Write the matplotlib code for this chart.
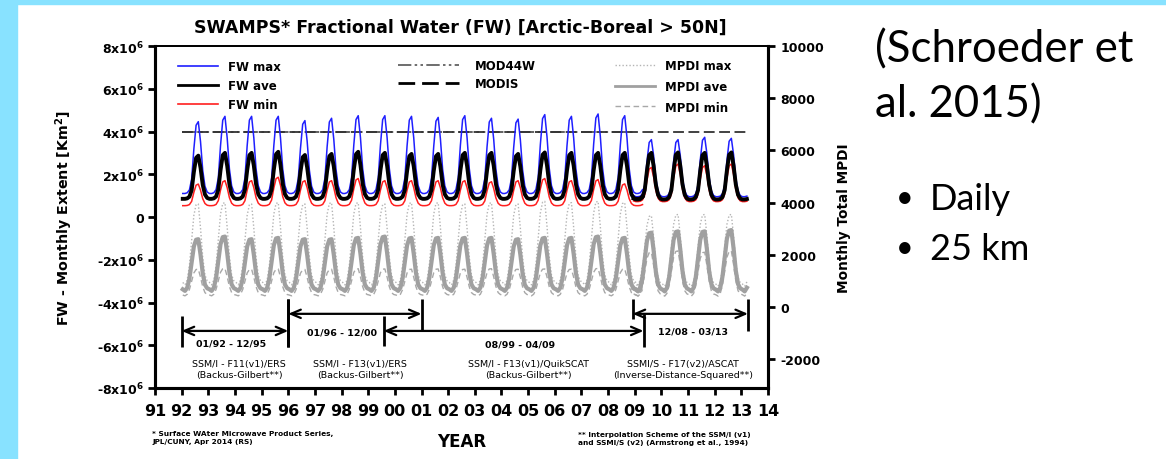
import matplotlib.pyplot as plt
from matplotlib.lines import Line2D
from matplotlib.patches import Rectangle

# ---------------- data ----------------
years_old = list(range(1992, 2009))   # SSM/I era, Jan 1992 - Apr 2009
years_new = list(range(2009, 2013))   # SSMI/S era, Dec 2008 - Mar 2013

# Jan..Dec seasonal shape of the curves (0 = winter level, 1 = summer peak)
fw_shape = [0.0, 0.0, 0.01, 0.05, 0.2, 0.62, 0.95, 1.0, 0.72, 0.32, 0.1, 0.02]
mpdi_shape = [0.03, 0.0, 0.06, 0.24, 0.55, 0.86, 0.99, 1.0, 0.7, 0.34, 0.12, 0.05]

# FW monthly extent (km2): summer peak per year, winter level per era
fw_max_peak_old = [4.46e6, 4.71e6, 4.71e6, 4.71e6, 4.51e6, 4.62e6, 4.74e6, 4.74e6, 4.71e6,
                   4.66e6, 4.74e6, 4.62e6, 4.58e6, 4.79e6, 4.71e6, 4.82e6, 4.74e6]
fw_max_peak_new = [3.62e6, 3.62e6, 3.73e6, 3.68e6]
fw_max_low = [1.1e6, 0.95e6]
fw_ave_peak_old = [2.87e6, 3.0e6, 3.0e6, 3.05e6, 2.9e6, 2.95e6, 3.05e6, 3.0e6, 2.95e6,
                   2.95e6, 3.0e6, 3.0e6, 2.95e6, 3.02e6, 3.0e6, 3.0e6, 3.0e6]
fw_ave_peak_new = [3.0e6, 3.02e6, 3.0e6, 3.02e6]
fw_ave_low = [0.85e6, 0.82e6]
fw_min_peak_old = [1.54e6, 1.7e6, 1.7e6, 1.86e6, 1.7e6, 1.7e6, 1.8e6, 1.7e6, 1.7e6,
                   1.7e6, 1.7e6, 1.65e6, 1.7e6, 1.8e6, 1.7e6, 1.75e6, 1.55e6]
fw_min_peak_new = [2.32e6, 2.48e6, 2.4e6, 2.48e6]
fw_min_low = [0.53e6, 0.72e6]

# MODIS static water masks (km2)
mod44w_level = 4.0e6
modis_level = 4.0e6

# monthly total MPDI
mpdi_max_peak_old = [3950, 4000, 3950, 4000, 3950, 4000, 4000, 3950, 4000,
                     4000, 3950, 4000, 3950, 4050, 4000, 4050, 4000]
mpdi_max_peak_new = [3500, 3550, 3550, 3550]
mpdi_max_low = [850, 800]
mpdi_ave_peak_old = [2600, 2700, 2600, 2650, 2600, 2600, 2650, 2700, 2650,
                     2650, 2650, 2650, 2600, 2650, 2650, 2700, 2650]
mpdi_ave_peak_new = [2850, 2900, 2900, 2950]
mpdi_ave_low = [620, 600]
mpdi_min_peak_old = [1450, 1480, 1450, 1460, 1440, 1450, 1470, 1460, 1450,
                     1460, 1450, 1470, 1450, 1460, 1450, 1480, 1460]
mpdi_min_peak_new = [2100, 2150, 2100, 2150]
mpdi_min_low = [430, 420]

# sensor periods
period_labels = ['01/92 - 12/95', '01/96 - 12/00', '08/99 - 04/09', '12/08 - 03/13']
period_start = [1992.0, 1996.0, 1999.58, 2008.92]
period_end = [1996.0, 2001.0, 2009.33, 2013.25]
sensor_labels = ['SSM/I - F11(v1)/ERS\n(Backus-Gilbert**)',
                 'SSM/I - F13(v1)/ERS\n(Backus-Gilbert**)',
                 'SSM/I - F13(v1)/QuikSCAT\n(Backus-Gilbert**)',
                 'SSMI/S - F17(v2)/ASCAT\n(Inverse-Distance-Squared**)']

xtick_years = list(range(1991, 2015))
xtick_labels = ['91', '92', '93', '94', '95', '96', '97', '98', '99', '00', '01', '02',
                '03', '04', '05', '06', '07', '08', '09', '10', '11', '12', '13', '14']
ytick_left = [-8e6, -6e6, -4e6, -2e6, 0, 2e6, 4e6, 6e6, 8e6]
ytick_left_labels = ['-8x10$^{\\mathbf{6}}$', '-6x10$^{\\mathbf{6}}$', '-4x10$^{\\mathbf{6}}$',
                     '-2x10$^{\\mathbf{6}}$', '0', '2x10$^{\\mathbf{6}}$', '4x10$^{\\mathbf{6}}$',
                     '6x10$^{\\mathbf{6}}$', '8x10$^{\\mathbf{6}}$']
ytick_right = [-2000, 0, 2000, 4000, 6000, 8000, 10000]


def monthly(start, end, first_year, peaks, low, shape):
    # monthly series from per-year peaks and the seasonal shape
    t, v = [], []
    y, m = start
    while (y, m) <= end:
        i = min(max(y - first_year, 0), len(peaks) - 1)
        t.append(y + (m - 0.5) / 12)
        v.append(low + (peaks[i] - low) * shape[m - 1])
        m += 1
        if m > 12:
            y, m = y + 1, 1
    return t, v


old = ((1992, 1), (2009, 4), 1992)
new = ((2008, 12), (2013, 3), 2009)

fig = plt.figure(figsize=(11.66, 4.6), dpi=100)
fig.patch.set_facecolor('white')
fig.patches.append(Rectangle((0, 0), 17 / 1166, 1, transform=fig.transFigure,
                             color='#88e2ff', zorder=0))
fig.patches.append(Rectangle((0, 1 - 5 / 460), 1, 5 / 460, transform=fig.transFigure,
                             color='#88e2ff', zorder=0))

ax = fig.add_axes([155 / 1166, 71 / 460, 613 / 1166, 342 / 460])
ax2 = ax.twinx()

# MPDI on the right axis
for era, pk, lo in [(old, mpdi_max_peak_old, mpdi_max_low[0]), (new, mpdi_max_peak_new, mpdi_max_low[1])]:
    t, v = monthly(era[0], era[1], era[2], pk, lo, mpdi_shape)
    ax2.plot(t, v, color='#b4b4b4', lw=1.0, ls=(0, (1, 1.5)))
for era, pk, lo in [(old, mpdi_min_peak_old, mpdi_min_low[0]), (new, mpdi_min_peak_new, mpdi_min_low[1])]:
    t, v = monthly(era[0], era[1], era[2], pk, lo, mpdi_shape)
    ax2.plot(t, v, color='#a8a8a8', lw=1.0, ls=(0, (4, 2.5)))
for era, pk, lo in [(old, mpdi_ave_peak_old, mpdi_ave_low[0]), (new, mpdi_ave_peak_new, mpdi_ave_low[1])]:
    t, v = monthly(era[0], era[1], era[2], pk, lo, mpdi_shape)
    ax2.plot(t, v, color='#a0a0a0', lw=3.0)

# FW on the left axis
ax.plot([1992.0, 2009.0], [mod44w_level, mod44w_level], color='#555555', lw=1.3,
        ls=(0, (8, 2, 1.5, 2, 1.5, 2)))
ax.plot([1992.0, 2013.3], [modis_level, modis_level], color='#333333', lw=1.3, ls=(0, (6, 2.5)))
for era, pk, lo in [(old, fw_max_peak_old, fw_max_low[0]), (new, fw_max_peak_new, fw_max_low[1])]:
    t, v = monthly(era[0], era[1], era[2], pk, lo, fw_shape)
    ax.plot(t, v, color='#1f1fff', lw=1.1)
for era, pk, lo in [(old, fw_min_peak_old, fw_min_low[0]), (new, fw_min_peak_new, fw_min_low[1])]:
    t, v = monthly(era[0], era[1], era[2], pk, lo, fw_shape)
    ax.plot(t, v, color='#ff1f1f', lw=1.1)
for era, pk, lo in [(old, fw_ave_peak_old, fw_ave_low[0]), (new, fw_ave_peak_new, fw_ave_low[1])]:
    t, v = monthly(era[0], era[1], era[2], pk, lo, fw_shape)
    ax.plot(t, v, color='black', lw=2.8)

# axes
ax.set_xlim(1991, 2014)
ax.set_ylim(-8e6, 8e6)
ax2.set_ylim(-3100, 10000)
ax.set_xticks(xtick_years)
ax.set_xticklabels(xtick_labels, fontsize=11.5, fontweight='bold')
ax.set_yticks(ytick_left)
ax.set_yticklabels(ytick_left_labels, fontsize=9, fontweight='bold')
ax2.set_yticks(ytick_right)
ax2.set_yticklabels([str(v) for v in ytick_right], fontsize=9, fontweight='bold')
ax.tick_params(axis='both', direction='out', length=5, width=2, pad=3)
ax.tick_params(axis='x', pad=6)
ax2.tick_params(axis='y', direction='out', length=5, width=2, pad=4)
for a in (ax, ax2):
    for s in ('left', 'bottom', 'right'):
        a.spines[s].set_linewidth(2.2)
    a.spines['top'].set_linewidth(1.3)

ax.set_ylabel('FW - Monthly Extent [Km$^\\mathbf{2}$]', fontsize=10.3, fontweight='bold')
ax.yaxis.set_label_coords(-0.13, 0.5)
ax2.set_ylabel('Monthly Total MPDI', fontsize=9.8, fontweight='bold')
ax2.yaxis.set_label_coords(1.112, 0.5)

# sensor period brackets (left axis units)
M = 1e6
bars = [((-4.63, -6.07), (-3.83, -6.07)),
        ((-3.83, -6.07), (-3.83, -5.33)),
        ((-4.63, -6.02), (-4.53, -6.07)),
        ((-3.83, -4.77), (-3.83, -5.33))]
arrow_y = [-5.33, -4.53, -5.33, -4.53]
label_xy = [(1993.85, -5.9), (1998.0, -5.37), (2004.7, -5.93), (2011.2, -5.33)]
sensor_x = [1994.15, 1998.7, 2005.0, 2010.8]
for i in range(4):
    x0, x1 = period_start[i], period_end[i]
    ax.vlines(x0, bars[i][0][1] * M, bars[i][0][0] * M, color='black', lw=2)
    ax.vlines(x1, bars[i][1][1] * M, bars[i][1][0] * M, color='black', lw=2)
    ax.annotate('', xy=(x1, arrow_y[i] * M), xytext=(x0, arrow_y[i] * M),
                arrowprops=dict(arrowstyle='<->,head_length=0.7,head_width=0.3',
                                color='black', lw=1.6, shrinkA=0, shrinkB=0))
    ax.text(label_xy[i][0], label_xy[i][1] * M, period_labels[i], ha='center', va='center',
            fontsize=6.8, fontweight='bold')
    ax.text(sensor_x[i], -7.13 * M, sensor_labels[i], ha='center', va='center',
            fontsize=6.8, linespacing=1.3)

# legends
fs = 8.5
leg1 = ax2.legend(handles=[Line2D([], [], color='#1f1fff', lw=1.2),
                           Line2D([], [], color='black', lw=2.0),
                           Line2D([], [], color='#ff1f1f', lw=1.2)],
                  labels=['FW max', 'FW ave', 'FW min'], loc='upper left',
                  bbox_to_anchor=(0.0375, 0.958), frameon=False, borderpad=0,
                  borderaxespad=0, handlelength=3.4, handletextpad=0.85,
                  labelspacing=0.5, prop=dict(weight='bold', size=fs))
ax2.add_artist(leg1)
leg2 = ax2.legend(handles=[Line2D([], [], color='#555555', lw=1.2, ls=(0, (8, 2, 1.5, 2, 1.5, 2))),
                           Line2D([], [], color='black', lw=2.0, ls=(0, (6, 2.5)))],
                  labels=['MOD44W', 'MODIS'], loc='upper left',
                  bbox_to_anchor=(0.396, 0.962), frameon=False, borderpad=0,
                  borderaxespad=0, handlelength=5.2, handletextpad=1.3,
                  labelspacing=0.42, prop=dict(weight='bold', size=fs))
ax2.add_artist(leg2)
leg3 = ax2.legend(handles=[Line2D([], [], color='#b4b4b4', lw=1.0, ls=(0, (1, 1.5))),
                           Line2D([], [], color='#a0a0a0', lw=2.0),
                           Line2D([], [], color='#a8a8a8', lw=1.0, ls=(0, (4, 2.5)))],
                  labels=['MPDI max', 'MPDI ave', 'MPDI min'], loc='upper left',
                  bbox_to_anchor=(0.75, 0.962), frameon=False, borderpad=0,
                  borderaxespad=0, handlelength=3.4, handletextpad=0.85,
                  labelspacing=0.66, prop=dict(weight='bold', size=fs))

# titles and notes
fig.text(460 / 1166, 1 - 28 / 460, 'SWAMPS* Fractional Water (FW) [Arctic-Boreal > 50N]',
         ha='center', va='center', fontsize=12.5, fontweight='bold')
fig.text(462 / 1166, 1 - 442 / 460, 'YEAR', ha='center', va='center', fontsize=12,
         fontweight='bold')
fig.text(152 / 1166, 1 - 438 / 460,
         '* Surface WAter Microwave Product Series,\nJPL/CUNY, Apr 2014 (RS)',
         ha='left', va='center', fontsize=5.3, fontweight='bold', linespacing=1.4)
fig.text(578 / 1166, 1 - 439 / 460,
         '** Interpolation Scheme of the SSM/I (v1)\nand SSMI/S (v2) (Armstrong et al., 1994)',
         ha='left', va='center', fontsize=5.3, fontweight='bold', linespacing=1.4)

fig.text(875 / 1166, 1 - 50 / 460, '(Schroeder et', ha='left', va='center',
         fontsize=31.5, family='Lato')
fig.text(875 / 1166, 1 - 105 / 460, 'al. 2015)', ha='left', va='center',
         fontsize=31.5, family='Lato')
fig.text(905 / 1166, 1 - 198 / 460, '•', ha='center', va='center', fontsize=22, family='Lato')
fig.text(930 / 1166, 1 - 200 / 460, 'Daily', ha='left', va='center', fontsize=26, family='Lato')
fig.text(905 / 1166, 1 - 248 / 460, '•', ha='center', va='center', fontsize=22, family='Lato')
fig.text(930 / 1166, 1 - 250 / 460, '25 km', ha='left', va='center', fontsize=26, family='Lato')

fig.savefig('out.png', dpi=100, facecolor=fig.get_facecolor())
